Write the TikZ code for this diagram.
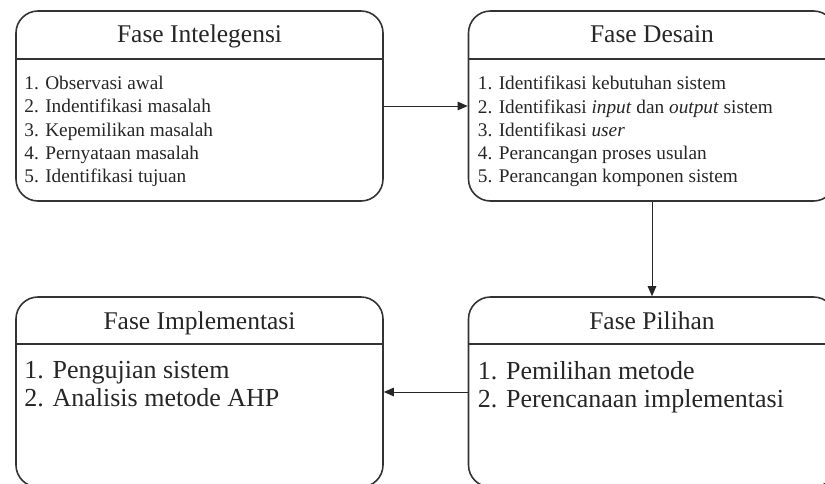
\documentclass[tikz,border=0pt]{standalone}
\usepackage{fontspec}
\setmainfont{Liberation Serif}
\usetikzlibrary{arrows.meta}

\tikzset{
  phase/.style={draw=black!80, line width=1.6pt, rounded corners=22pt,
    minimum width=367pt, minimum height=190pt, inner sep=0pt},
  divider/.style={draw=black!80, line width=1.6pt},
  head/.style={anchor=base, inner sep=0pt, text=black!85,
    font=\fontsize{25.5}{30}\selectfont},
  smallitems/.style={anchor=north west, align=left, inner sep=0pt, text=black!85,
    font=\fontsize{19.3}{23.2}\selectfont},
  bigitems/.style={anchor=north west, align=left, inner sep=0pt, text=black!85,
    font=\fontsize{26}{28}\selectfont},
  flow/.style={-{Triangle[length=10pt,width=8.5pt]}, line width=1pt, draw=black!85},
}

\begin{document}
\begin{tikzpicture}[x=1pt, y=-1pt]

\useasboundingbox (0,0) rectangle (825,483);
\clip (0,0) rectangle (825,483);

% the four phases
\node[phase] (intel) at (199.5,106) {};
\node[phase] (desain) at (652,106) {};
\node[phase] (pilihan) at (652,392) {};
\node[phase] (impl) at (199.5,392) {};

\draw[divider] ([yshift=-49pt]intel.north west) -- ([yshift=-49pt]intel.north east);
\draw[divider] ([yshift=-49pt]desain.north west) -- ([yshift=-49pt]desain.north east);
\draw[divider] ([yshift=-48pt]pilihan.north west) -- ([yshift=-48pt]pilihan.north east);
\draw[divider] ([yshift=-48pt]impl.north west) -- ([yshift=-48pt]impl.north east);

\node[head] (intelhead) at ([yshift=-32.5pt]intel.north) {Fase Intelegensi};
\node[head] (desainhead) at ([yshift=-32.5pt]desain.north) {Fase Desain};
\node[head] (pilihanhead) at ([yshift=-33pt]pilihan.north) {Fase Pilihan};
\node[head] (implhead) at ([yshift=-33pt]impl.north) {Fase Implementasi};

\node[smallitems] (intellist) at ([xshift=9pt, yshift=-66pt]intel.north west)
  {1. Observasi awal\\ 2. Indentifikasi masalah\\ 3. Kepemilikan masalah\\
   4. Pernyataan masalah\\ 5. Identifikasi tujuan};
\node[smallitems] (desainlist) at ([xshift=10pt, yshift=-66pt]desain.north west)
  {1. Identifikasi kebutuhan sistem\\
   2. Identifikasi \textit{input} dan \textit{output} sistem\\
   3. Identifikasi \textit{user}\\ 4. Perancangan proses usulan\\
   5. Perancangan komponen sistem};
\node[bigitems] (pilihanlist) at ([xshift=10pt, yshift=-65pt]pilihan.north west)
  {1. Pemilihan metode\\ 2. Perencanaan implementasi};
\node[bigitems] (impllist) at ([xshift=9pt, yshift=-65pt]impl.north west)
  {1. Pengujian sistem\\ 2. Analisis metode AHP};

% flow between phases
\draw[flow] (intel) -- (desain);
\draw[flow] (desain) -- (pilihan);
\draw[flow] (pilihan) -- (impl);

\end{tikzpicture}
\end{document}
